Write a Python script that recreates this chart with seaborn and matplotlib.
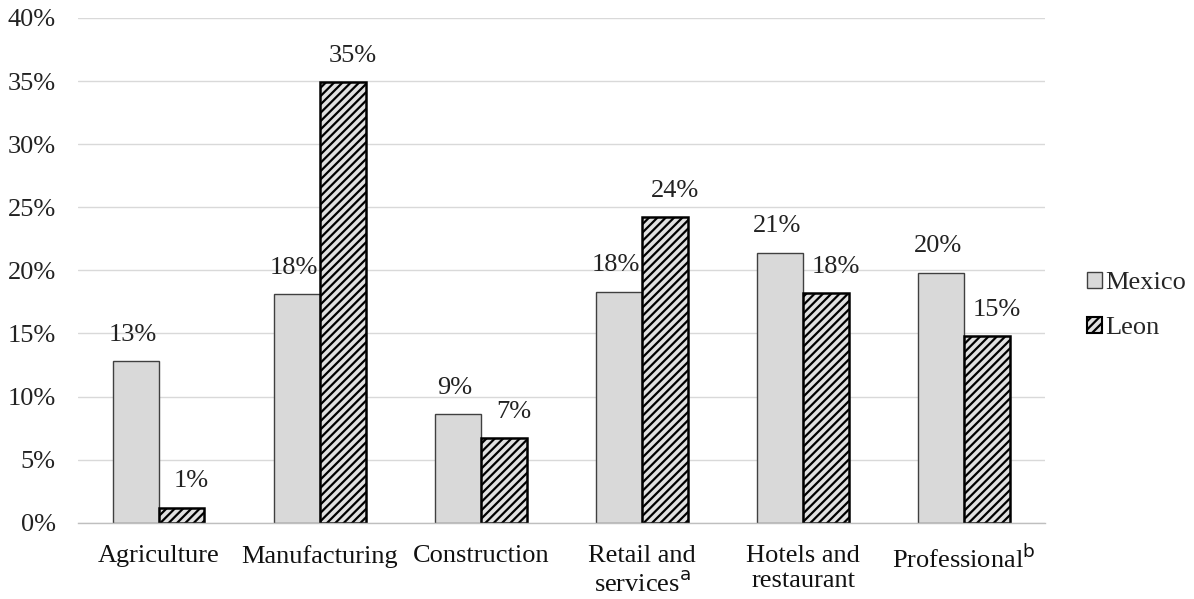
import matplotlib
matplotlib.use("Agg")
import matplotlib.pyplot as plt
import seaborn as sns
import pandas as pd
from matplotlib.patches import Patch
from matplotlib.ticker import PercentFormatter

# Employment share by sector (%)
categories = ["Agriculture", "Manufacturing", "Construction",
              "Retail and\nservices$^{\\mathsf{a}}$", "Hotels and\nrestaurant",
              "Professional$^{\\mathsf{b}}$"]
mexico = [12.8, 18.1, 8.6, 18.3, 21.4, 19.8]
leon = [1.2, 34.9, 6.7, 24.2, 18.2, 14.8]
series = ["Mexico", "Leon"]
yticks = [0, 5, 10, 15, 20, 25, 30, 35, 40]

df = pd.DataFrame({
    "sector": categories * 2,
    "region": [series[0]] * len(categories) + [series[1]] * len(categories),
    "share": mexico + leon,
})

sns.set_theme(style="white")
plt.rcParams["font.family"] = ["Liberation Serif", "DejaVu Serif"]
plt.rcParams["mathtext.fontset"] = "dejavusans"
plt.rcParams["hatch.linewidth"] = 1.6
plt.rcParams["hatch.color"] = "black"

FS = 19

fig = plt.figure(figsize=(11.94, 5.99), dpi=100)
ax = fig.add_axes([0.0653, 0.1274, 0.8097, 0.8426])

sns.barplot(data=df, x="sector", y="share", hue="region", order=categories,
            hue_order=series, width=0.57, gap=0, ax=ax, legend=False,
            palette=["#d9d9d9", "#d9d9d9"], saturation=1)

mex_bars, leon_bars = ax.containers[0], ax.containers[1]
for p in mex_bars:
    p.set_facecolor("#d9d9d9")
    p.set_edgecolor("#404040")
    p.set_linewidth(1.0)
for p in leon_bars:
    p.set_facecolor("#e0e0e0")
    p.set_edgecolor("black")
    p.set_linewidth(1.8)
    p.set_hatch("////")

# Value labels above each bar
for bars, vals, dx in ((mex_bars, mexico, -2), (leon_bars, leon, 7)):
    for p, v in zip(bars, vals):
        ax.annotate(f"{round(v):.0f}%", (p.get_x() + p.get_width() / 2, v),
                    xytext=(dx, 19), textcoords="offset points",
                    ha="center", va="center", fontsize=FS, color="#222222")

ax.set_ylim(0, 40)
ax.set_yticks(yticks)
ax.yaxis.set_major_formatter(PercentFormatter(decimals=0))
ax.set_xlim(-0.5, len(categories) - 0.5)
ax.grid(axis="y", color="#d9d9d9", linewidth=1.0)
ax.set_axisbelow(True)
for s in ("top", "right", "left"):
    ax.spines[s].set_visible(False)
ax.spines["bottom"].set_color("#bfbfbf")
ax.spines["bottom"].set_linewidth(1.0)
ax.tick_params(axis="y", length=0, pad=16, labelsize=FS, labelcolor="#222222")
ax.tick_params(axis="x", length=0, pad=16, labelsize=FS, labelcolor="#111111")
ax.set_xlabel("")
ax.set_ylabel("")

handles = [
    Patch(facecolor="#d9d9d9", edgecolor="#404040", linewidth=1.0),
    Patch(facecolor="#e0e0e0", edgecolor="black", linewidth=1.5, hatch="////"),
]
ax.legend(handles, series, loc="center left", bbox_to_anchor=(1.033, 0.43),
          frameon=False, fontsize=FS, handlelength=0.55, handleheight=0.55,
          handletextpad=0.15, labelspacing=0.85, borderaxespad=0)

fig.savefig("out.png", dpi=100)
